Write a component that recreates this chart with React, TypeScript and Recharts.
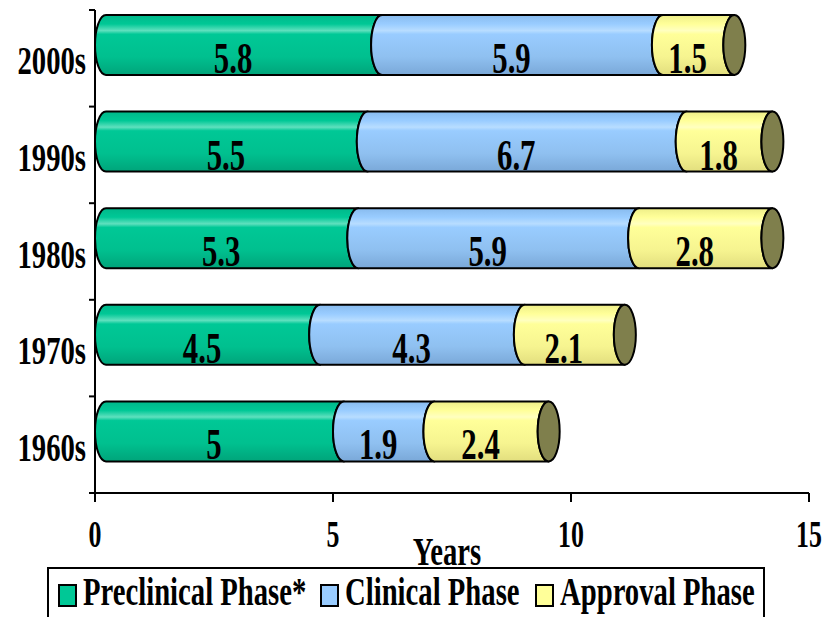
import React from 'react';
import { BarChart, Bar, XAxis, YAxis, Legend, LabelList } from 'recharts';

const decades = ['2000s', '1990s', '1980s', '1970s', '1960s'];
const preclinical = [5.8, 5.5, 5.3, 4.5, 5];
const clinical = [5.9, 6.7, 5.9, 4.3, 1.9];
const approval = [1.5, 1.8, 2.8, 2.1, 2.4];
const xTicks = [0, 5, 10, 15];
const seriesNames = ['Preclinical Phase*', 'Clinical Phase', 'Approval Phase'];
const seriesKeys = ['preclinical', 'clinical', 'approval'];
const seriesColors = ['#00C896', '#99CCFF', '#FFFF99'];
const gradIds = ['gGreen', 'gBlue', 'gYellow'];
const CAP_COLOR = '#7F7F4C';

const data = decades.map((d, i) => ({
  decade: d,
  preclinical: preclinical[i],
  clinical: clinical[i],
  approval: approval[i],
}));

const FONT = "'Liberation Serif', 'Times New Roman', serif";
const SQX = 0.7;
const RX = 11;
const DEPTH = 13;

const makeShape = (gradId: string, isLast: boolean) => (props: any) => {
  const { x, y, width, height } = props;
  if (width == null || height == null) return null;
  const x0 = x;
  const x1 = x + width;
  const y0 = y - DEPTH;
  const h = height;
  const ry = h / 2;
  const d = `M ${x0 + RX} ${y0} L ${x1 + RX} ${y0} A ${RX} ${ry} 0 0 0 ${x1 + RX} ${y0 + h} L ${x0 + RX} ${y0 + h} A ${RX} ${ry} 0 0 1 ${x0 + RX} ${y0} Z`;
  return (
    <g>
      <path d={d} fill={`url(#${gradId})`} stroke="#000" strokeWidth={2} strokeLinejoin="round" />
      {isLast && (
        <ellipse cx={x1 + RX} cy={y0 + ry} rx={RX} ry={ry} fill={CAP_COLOR} stroke="#000" strokeWidth={2} />
      )}
    </g>
  );
};

const valueLabel = (props: any) => {
  const { x, y, width, height, value } = props;
  const cx = x + width / 2;
  const by = y + height / 2 + 15;
  return (
    <text
      transform={`translate(${cx},${by}) scale(${SQX},1)`}
      textAnchor="middle"
      fontFamily={FONT}
      fontWeight="bold"
      fontSize={44}
      fill="#000"
    >
      {value}
    </text>
  );
};

const YTick = (props: any) => {
  const { x, y, payload, index, visibleTicksCount } = props;
  const half = payload && payload.offset ? payload.offset : 48.3;
  const axisX = x + 8;
  return (
    <g>
      <text
        transform={`translate(${x - 1},${y + 16}) scale(${SQX},1)`}
        textAnchor="end"
        fontFamily={FONT}
        fontWeight="bold"
        fontSize={41}
        fill="#000"
      >
        {payload.value}
      </text>
      <line x1={axisX - 6} x2={axisX} y1={y - half} y2={y - half} stroke="#000" strokeWidth={2} />
      {index === visibleTicksCount - 1 && (
        <line x1={axisX - 6} x2={axisX} y1={y + half} y2={y + half} stroke="#000" strokeWidth={2} />
      )}
    </g>
  );
};

const XTick = (props: any) => {
  const { x, y, payload } = props;
  return (
    <text
      transform={`translate(${x},${y + 43}) scale(${SQX},1)`}
      textAnchor="middle"
      fontFamily={FONT}
      fontWeight="bold"
      fontSize={37}
      fill="#000"
    >
      {payload.value}
    </text>
  );
};

const YearsLabel = (props: any) => {
  const vb = props.viewBox || { x: 95, y: 493, width: 714, height: 124 };
  return (
    <text
      transform={`translate(${vb.x + vb.width / 2 - 5},${vb.y + 72}) scale(${SQX},1)`}
      textAnchor="middle"
      fontFamily={FONT}
      fontWeight="bold"
      fontSize={41}
      fill="#000"
    >
      Years
    </text>
  );
};

const legendX = [19, 281, 496];

const LegendContent = () => (
  <svg width={740} height={57} style={{ display: 'block', overflow: 'hidden' }}>
    <rect x={8} y={8} width={716} height={80} fill="none" stroke="#000" strokeWidth={2} />
    {seriesNames.map((name, i) => (
      <g key={name}>
        <rect x={legendX[i]} y={25} width={17} height={21} fill={seriesColors[i]} stroke="#000" strokeWidth={2} />
        <text
          transform={`translate(${legendX[i] + 24},${45}) scale(${SQX},1)`}
          textAnchor="start"
          fontFamily={FONT}
          fontWeight="bold"
          fontSize={41}
          fill="#000"
        >
          {name}
        </text>
      </g>
    ))}
  </svg>
);

export default function App() {
  return (
    <div style={{ position: 'absolute', left: 0, top: 0, width: 828, height: 617, background: '#fff' }}>
      <BarChart
        width={828}
        height={617}
        data={data}
        layout="vertical"
        margin={{ top: 10, right: 19, left: 0, bottom: 0 }}
      >
        <defs>
          <linearGradient id="gGreen" x1="0" y1="0" x2="0" y2="1">
            <stop offset="0%" stopColor="#00B88A" />
            <stop offset="15%" stopColor="#00C896" />
            <stop offset="26%" stopColor="#5FE0BE" />
            <stop offset="32%" stopColor="#00C896" />
            <stop offset="70%" stopColor="#00C08F" />
            <stop offset="100%" stopColor="#00A47A" />
          </linearGradient>
          <linearGradient id="gBlue" x1="0" y1="0" x2="0" y2="1">
            <stop offset="0%" stopColor="#88BBEE" />
            <stop offset="15%" stopColor="#99CCFF" />
            <stop offset="26%" stopColor="#B8DDFF" />
            <stop offset="32%" stopColor="#99CCFF" />
            <stop offset="70%" stopColor="#8FC0F0" />
            <stop offset="100%" stopColor="#7AA8D8" />
          </linearGradient>
          <linearGradient id="gYellow" x1="0" y1="0" x2="0" y2="1">
            <stop offset="0%" stopColor="#EEEE88" />
            <stop offset="15%" stopColor="#FFFF99" />
            <stop offset="26%" stopColor="#FFFFC0" />
            <stop offset="32%" stopColor="#FFFF99" />
            <stop offset="70%" stopColor="#F6F490" />
            <stop offset="100%" stopColor="#E2DE7E" />
          </linearGradient>
        </defs>
        <XAxis
          type="number"
          domain={[0, 15]}
          ticks={xTicks}
          interval={0}
          height={124}
          axisLine={{ stroke: '#000', strokeWidth: 2 }}
          tickLine={{ stroke: '#000', strokeWidth: 2 }}
          tickSize={9}
          tick={<XTick />}
          label={{ value: 'Years', content: <YearsLabel /> }}
        />
        <YAxis
          type="category"
          dataKey="decade"
          width={95}
          axisLine={{ stroke: '#000', strokeWidth: 2 }}
          tickLine={false}
          tick={<YTick />}
          interval={0}
        />
        <Legend
          verticalAlign="middle"
          align="center"
          layout="horizontal"
          wrapperStyle={{ left: 40, top: 560, width: 740, height: 57 }}
          content={<LegendContent />}
        />
        {seriesKeys.map((k, i) => (
          <Bar
            key={k}
            dataKey={k}
            name={seriesNames[i]}
            stackId="a"
            fill={seriesColors[i]}
            barSize={60}
            isAnimationActive={false}
            shape={makeShape(gradIds[i], i === seriesKeys.length - 1)}
          >
            <LabelList dataKey={k} content={valueLabel} />
          </Bar>
        ))}
      </BarChart>
    </div>
  );
}
